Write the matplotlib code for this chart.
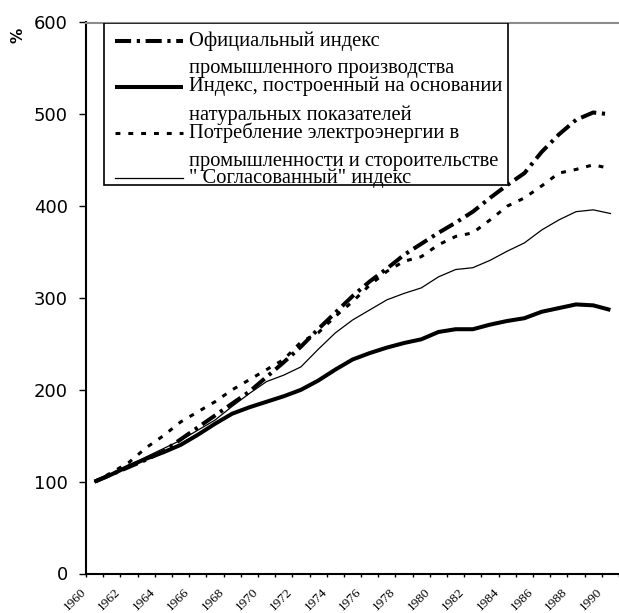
import numpy as np
import matplotlib
matplotlib.use("Agg")
import matplotlib.pyplot as plt
from matplotlib.patches import Rectangle
from matplotlib.lines import Line2D
from matplotlib.transforms import ScaledTranslation

years = list(range(1960, 1991))

official = [100, 108, 116, 124, 133, 146, 159, 172, 185, 198, 214, 230, 247, 266, 284,
            302, 318, 332, 347, 359, 371, 382, 394, 409, 423, 436, 459, 478, 494, 502, 500]
natural = [100, 108, 117, 125, 132, 140, 151, 163, 174, 181, 187, 193, 200, 210, 222,
           233, 240, 246, 251, 255, 263, 266, 266, 271, 275, 278, 285, 289, 293, 292, 287]
electricity = [100, 110, 121, 137, 150, 165, 176, 187, 200, 211, 222, 233, 252, 262, 280,
               296, 314, 329, 340, 345, 358, 367, 371, 385, 400, 409, 422, 436, 440, 445, 441]
consensus = [100, 108, 117, 127, 136, 145, 156, 167, 182, 196, 209, 216, 225, 244, 262,
             276, 287, 298, 305, 311, 323, 331, 333, 341, 351, 360, 374, 385, 394, 396, 392]

labels = [
    ("Официальный индекс", "промышленного производства"),
    ("Индекс, построенный на основании", "натуральных показателей"),
    ("Потребление электроэнергии в", "промышленности и стороительстве"),
    ("\" Согласованный\" индекс", None),
]
y_ticks = [0, 100, 200, 300, 400, 500, 600]

W, H = 619, 613
fig = plt.figure(figsize=(W / 100, H / 100), dpi=100)
L, R, T, B = 86, 619, 22.5, 573.5
ax = fig.add_axes([L / W, 1 - B / H, (R - L) / W, (B - T) / H])

x = np.arange(len(years))
styles = [
    dict(color="black", lw=2.9, linestyle=(0, (4.0, 1.4, 0.8, 1.4)), dash_capstyle="butt"),
    dict(color="black", lw=2.9, linestyle="-", solid_capstyle="butt"),
    dict(color="black", lw=2.2, linestyle=(0, (1.6, 2.6)), dash_capstyle="butt"),
    dict(color="black", lw=0.9, linestyle="-"),
]
series = [official, natural, electricity, consensus]
for s, st in zip(series, styles):
    ax.plot(x, s, **st)

ax.set_xlim(-0.5, len(years) - 0.5)
ax.set_ylim(0, 600)

# y axis
ax.set_yticks(y_ticks)
ax.set_yticklabels([str(v) for v in y_ticks], fontsize=13, family="DejaVu Sans")
ax.tick_params(axis="y", direction="out", length=5, width=1.0, pad=8)

# x axis: ticks at category boundaries, labels every other category
ax.set_xticks(np.arange(-0.5, len(years), 1.0))
ax.set_xticklabels([])
ax.tick_params(axis="x", which="major", direction="out", length=2.5, width=1.0)
lab_pos = x[::2]
ax.set_xticks(lab_pos, minor=True)
ax.set_xticklabels([str(years[i]) for i in lab_pos], minor=True, rotation=45,
                   ha="right", fontsize=9.5, family="Liberation Serif")
ax.tick_params(axis="x", which="minor", length=0, pad=9)
off = ScaledTranslation(-6 / 100, 0, fig.dpi_scale_trans)
for lab in ax.get_xticklabels(minor=True):
    lab.set_transform(lab.get_transform() + off)

for side in ["left", "bottom"]:
    ax.spines[side].set_linewidth(1.5)
    ax.spines[side].set_color("black")
ax.spines["right"].set_visible(False)
ax.spines["top"].set_color("#8c8c8c")
ax.spines["top"].set_linewidth(1.5)

fig.text(0.029, 0.942, "%", rotation=90, fontsize=11, fontweight="bold",
         family="DejaVu Sans", ha="center", va="center")

# legend drawn manually (Excel style)
def ax_x(px):
    return (px - L) / (R - L)

def ax_y(py):
    return (B - py) / (B - T)

tr = ax.transAxes
box = Rectangle((ax_x(104), ax_y(185)), ax_x(508) - ax_x(104), ax_y(23) - ax_y(185),
                transform=tr, facecolor="white", edgecolor="black", lw=1.2, zorder=5)
ax.add_patch(box)
entry_y = [(41, 68), (86.7, 115), (132.5, 161.5), (178, None)]
for (l1, l2), (y1, y2), st in zip(labels, entry_y, styles):
    ax.add_line(Line2D([ax_x(115), ax_x(183)], [ax_y(y1), ax_y(y1)], transform=tr,
                       zorder=6, **st))
    ax.text(ax_x(189), ax_y(y1), l1, transform=tr, fontsize=14.8, family="Liberation Serif",
            va="center", ha="left", zorder=6)
    if l2:
        ax.text(ax_x(189), ax_y(y2), l2, transform=tr, fontsize=14.8, family="Liberation Serif",
                va="center", ha="left", zorder=6)

fig.savefig("out.png", dpi=100)
